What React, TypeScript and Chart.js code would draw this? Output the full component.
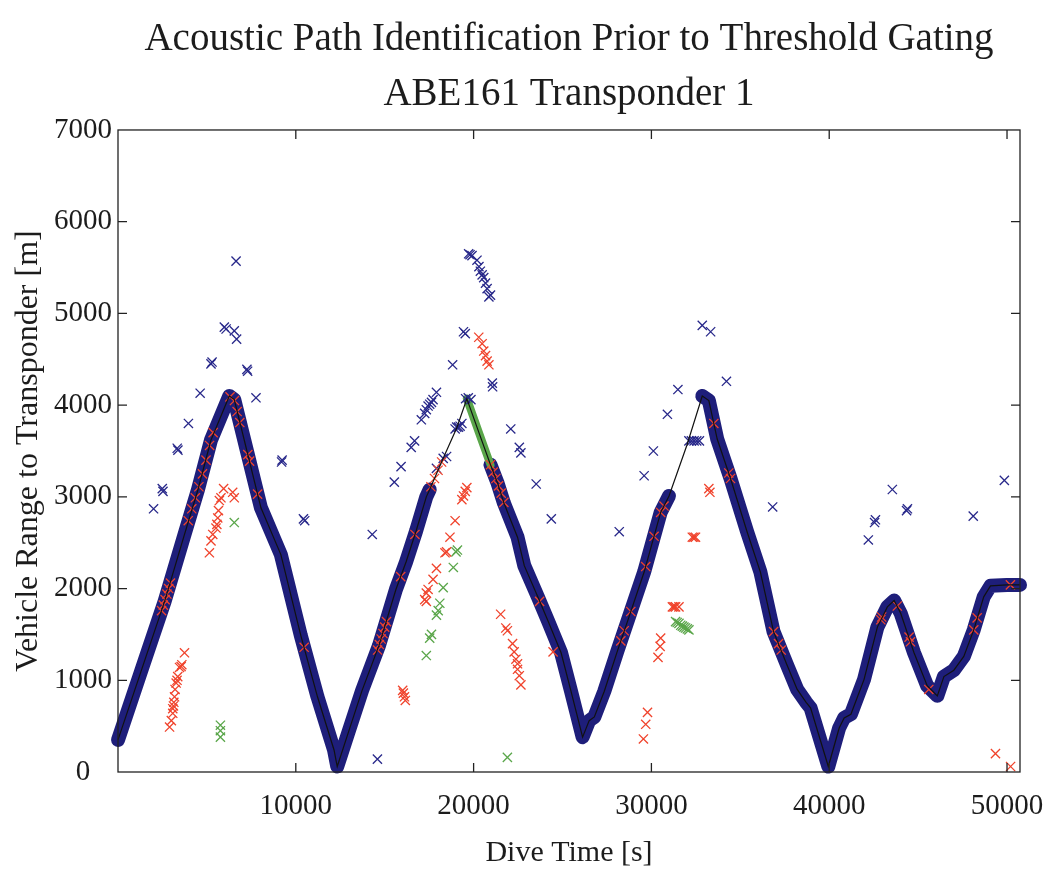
import React, { useEffect, useRef } from 'react';
import { Chart, registerables } from 'chart.js';

Chart.register(...registerables);

const titleLines = ['Acoustic Path Identification Prior to Threshold Gating', 'ABE161 Transponder 1'];
const xAxisTitle = 'Dive Time [s]';
const yAxisTitle = 'Vehicle Range to Transponder [m]';
const xTickValues = [0, 10000, 20000, 30000, 40000, 50000];
const yTickValues = [0, 1000, 2000, 3000, 4000, 5000, 6000, 7000];
const xMin = 0;
const xMax = 50730;
const yMin = 0;
const yMax = 7000;

// true vehicle range (thin black line) [time s, range m]
const trackPoints: number[][] = [
  [0, 350], [1300, 1100], [2620, 1860], [3740, 2590], [4500, 3080], [5230, 3620], [6260, 4100], [6540, 4060],
  [7290, 3470], [8040, 2880], [9160, 2370], [10280, 1490], [11220, 820], [12150, 240], [12330, 60],
  [12970, 440], [13730, 890], [14680, 1380], [15630, 1990], [16200, 2290], [16770, 2630], [17340, 3000],
  [17530, 3080], [18290, 3420], [19050, 3750], [19620, 4070],
  [20300, 3700], [20950, 3350], [21330, 3160], [21710, 2930], [22470, 2560], [22850, 2250], [23610, 1910],
  [24180, 1650], [24920, 1300], [25480, 880], [26130, 380],
  [26500, 560], [26790, 600], [27350, 880], [28090, 1320], [28650, 1640], [29590, 2180], [30520, 2830],
  [30990, 3010], [31990, 3560], [32860, 4100], [33230, 4050], [33700, 3630], [34450, 3200], [35380, 2620],
  [36130, 2180], [36870, 1530], [37620, 1170], [38200, 900], [38700, 760], [38950, 700], [39950, 60],
  [40560, 480], [40840, 590], [41220, 630], [41960, 1010], [42710, 1580], [43270, 1800], [43650, 1870],
  [44020, 1730], [44770, 1300], [45510, 940], [46080, 830], [46450, 1040], [47010, 1110], [47570, 1260],
  [48130, 1550], [48690, 1910], [49070, 2030], [50000, 2040], [50730, 2040],
];

// time spans where the dense direct-path (blue) fixes cover the track
const blueBandSpans: number[][] = [[0, 17530], [20950, 30990], [32860, 50730]];
// time span where the dense green fixes cover the track
const greenBandSpans: number[][] = [[19620, 20950]];

const blueFixes: number[][] = [
  [2000, 2870], [2490, 3090], [2530, 3060], [3330, 3530], [3370, 3510], [3960, 3800], [4620, 4130], [5230, 4450],
  [5290, 4470], [5980, 4850], [6080, 4830], [6540, 4810], [6670, 4720], [6640, 5570], [7250, 4390], [7290, 4370],
  [7760, 4080], [9200, 3380], [9230, 3400], [10430, 2760], [10500, 2740],
  [14300, 2590], [14590, 140], [15540, 3160], [15920, 3330], [16490, 3540], [16680, 3610], [17060, 3840],
  [17250, 3910], [17340, 3950], [17440, 3990], [17530, 4010], [17630, 4030], [17720, 4060], [17910, 4140],
  [18820, 4440], [19430, 4800], [19530, 4780], [19720, 5650], [19800, 5640], [19910, 5630], [20190, 5580],
  [20300, 5510], [20380, 5460], [20480, 5420], [20570, 5390], [20670, 5330], [20760, 5270], [20860, 5180],
  [20950, 5200], [21050, 4240], [21070, 4200], [22090, 3740], [22570, 3540], [22660, 3480], [23520, 3140],
  [24370, 2760],
  [17910, 3310], [18290, 3420], [18480, 3440], [18960, 3740], [19050, 3760], [19150, 3760], [19240, 3770],
  [19340, 3800], [19550, 4070], [19700, 4080], [19850, 4060],
  [28190, 2620], [29590, 3230], [30110, 3500], [30900, 3900], [31490, 4170], [32110, 3610], [32250, 3610],
  [32400, 3610], [32550, 3610], [32700, 3610], [32860, 4870], [33330, 4800], [34220, 4260], [36820, 2890],
  [42200, 2530], [42550, 2720], [42600, 2750], [43550, 3080], [44350, 2850], [44400, 2870], [48100, 2790],
  [49850, 3180],
];

const redFixes: number[][] = [
  [2900, 490], [3000, 560], [3080, 640], [3080, 690], [3120, 720], [3140, 760], [3180, 820], [3210, 900],
  [3270, 970], [3320, 1000], [3360, 1040], [3460, 1140], [3550, 1150], [3590, 1170], [3740, 1300],
  [5140, 2390], [5230, 2520], [5330, 2590], [5510, 2660], [5560, 2700], [5610, 2770], [5650, 2850], [5700, 2960],
  [5790, 2990], [5940, 3090], [6450, 3050], [6540, 2990],
  [2450, 1760], [2550, 1820], [2650, 1880], [2750, 1940], [2850, 2000], [2950, 2060], [3950, 2740], [4150, 2870],
  [4350, 2990], [4550, 3110], [4750, 3250], [4950, 3400], [5150, 3560], [5350, 3700], [6300, 4090], [6550, 4050],
  [6700, 3930], [6850, 3810], [7300, 3460], [7400, 3390], [7850, 3030], [10470, 1360],
  [16010, 890], [16050, 860], [16110, 820], [16160, 780], [17250, 1880], [17340, 1860], [17340, 1950],
  [17440, 1990], [17720, 2100], [17910, 2220], [18390, 2390], [18480, 2400], [18670, 2560], [18960, 2740],
  [19340, 2970], [19430, 3010], [19530, 3060], [19620, 3100],
  [20290, 4740], [20480, 4670], [20570, 4590], [20670, 4540], [20760, 4480], [20860, 4440],
  [21520, 1720], [21810, 1570], [21900, 1540], [22190, 1400], [22280, 1310], [22380, 1230], [22470, 1180],
  [22470, 1120], [22570, 1050], [22660, 950],
  [14600, 1330], [14700, 1390], [14800, 1450], [14900, 1510], [15000, 1580], [15100, 1640], [15900, 2130],
  [16700, 2590], [17600, 3110], [17800, 3200], [18000, 3290], [18200, 3380], [20950, 3350], [21100, 3270],
  [21250, 3200], [21400, 3120], [21550, 3040], [21700, 2940], [23710, 1860], [24470, 1310],
  [29550, 360], [29680, 520], [29780, 650], [30370, 1250], [30490, 1370], [30520, 1460], [31180, 1800],
  [31270, 1800], [31360, 1800], [31550, 1800], [32300, 2560], [32390, 2560], [32480, 2560], [33230, 3090],
  [33290, 3050],
  [28280, 1430], [28470, 1540], [28840, 1750], [29680, 2240], [30150, 2570], [30520, 2830], [30710, 2900],
  [33510, 3800], [34350, 3260], [34450, 3200], [36870, 1530], [37150, 1400], [37300, 1330],
  [42900, 1660], [42950, 1690], [43830, 1810], [44490, 1470], [44570, 1420], [45600, 900], [48130, 1550],
  [48320, 1680], [50190, 2040], [49350, 200], [50200, 60],
];

const greenFixes: number[][] = [
  [5760, 380], [5760, 450], [5760, 510], [6540, 2720],
  [17340, 1270], [17530, 1460], [17630, 1500], [17910, 1710], [18010, 1760], [18100, 1840], [18290, 2010],
  [18860, 2230], [19010, 2400], [19090, 2420], [21900, 160],
  [31360, 1640], [31450, 1630], [31550, 1620], [31650, 1600], [31740, 1590], [31830, 1580], [31920, 1570],
  [32020, 1560], [32110, 1550],
];

const SERIF = "'Liberation Serif', 'Times New Roman', serif";
const TEXT_COLOR = '#1c1c1c';

function toXY(pairs: number[][]) {
  return pairs.map(([x, y]) => ({ x, y }));
}

function trackWithin(spans: number[][]) {
  const out: { x: number; y: number | null }[] = [];
  for (const [x, y] of trackPoints) {
    const inside = spans.some(([a, b]) => x >= a && x <= b);
    if (inside) out.push({ x, y });
    else if (out.length && out[out.length - 1].y !== null) out.push({ x, y: null });
  }
  return out;
}

const framePlugin = {
  id: 'matlabFrame',
  afterDatasetsDraw(chart: any) {
    const { ctx, chartArea, scales } = chart;
    const { left, right, top, bottom } = chartArea;
    const len = 9;
    ctx.save();
    ctx.strokeStyle = '#222';
    ctx.lineWidth = 1.3;
    ctx.strokeRect(left, top, right - left, bottom - top);
    ctx.beginPath();
    for (const t of scales.x.ticks) {
      const px = scales.x.getPixelForValue(t.value);
      if (px <= left + 2 || px >= right - 2) continue;
      ctx.moveTo(px, bottom);
      ctx.lineTo(px, bottom - len);
      ctx.moveTo(px, top);
      ctx.lineTo(px, top + len);
    }
    for (const t of scales.y.ticks) {
      const py = scales.y.getPixelForValue(t.value);
      if (py <= top + 2 || py >= bottom - 2) continue;
      ctx.moveTo(left, py);
      ctx.lineTo(left + len, py);
      ctx.moveTo(right, py);
      ctx.lineTo(right - len, py);
    }
    ctx.stroke();
    ctx.restore();
  },
};

export default function App() {
  const canvasRef = useRef<HTMLCanvasElement | null>(null);

  useEffect(() => {
    if (!canvasRef.current) return;
    const crossStyle = (color: string, order: number, data: any[], label: string) => ({
      type: 'scatter' as const,
      label,
      data,
      showLine: false,
      pointStyle: 'crossRot',
      pointRadius: 6.5,
      pointBorderWidth: 1.3,
      borderColor: color,
      backgroundColor: color,
      pointBorderColor: color,
      order,
      clip: false as const,
    });

    const chart = new Chart(canvasRef.current, {
      type: 'scatter',
      data: {
        datasets: [
          {
            type: 'line',
            label: 'True range',
            data: toXY(trackPoints),
            showLine: true,
            borderColor: '#111111',
            borderWidth: 1.2,
            pointRadius: 0,
            fill: false,
            tension: 0,
            order: 0,
            clip: false,
          } as any,
          crossStyle('#f0432c', 1, toXY(redFixes), 'Red fixes'),
          crossStyle('#5aa64a', 2, toXY(greenFixes), 'Green fixes'),
          crossStyle('#28288a', 3, toXY(blueFixes), 'Blue fixes'),
          {
            type: 'line',
            label: 'Green band',
            data: trackWithin(greenBandSpans),
            showLine: true,
            spanGaps: false,
            borderColor: '#5aa64a',
            borderWidth: 8,
            borderJoinStyle: 'round',
            borderCapStyle: 'round',
            pointRadius: 0,
            fill: false,
            order: 4,
            clip: false,
          } as any,
          {
            type: 'line',
            label: 'Blue band',
            data: trackWithin(blueBandSpans),
            showLine: true,
            spanGaps: false,
            borderColor: '#1e1e7a',
            borderWidth: 14,
            borderJoinStyle: 'round',
            borderCapStyle: 'round',
            pointRadius: 0,
            fill: false,
            order: 5,
            clip: false,
          } as any,
        ],
      },
      options: {
        animation: false,
        responsive: true,
        maintainAspectRatio: false,
        layout: { padding: { left: 0, right: 27, top: 0, bottom: 0 } },
        plugins: {
          legend: { display: false },
          tooltip: { enabled: false },
          title: {
            display: true,
            text: titleLines,
            fullSize: false,
            color: TEXT_COLOR,
            font: { family: SERIF, size: 39, weight: 'normal', lineHeight: 1.41 },
            padding: { top: 12, bottom: 8 },
          },
        },
        scales: {
          x: {
            type: 'linear',
            min: xMin,
            max: xMax,
            afterBuildTicks: (scale: any) => {
              scale.ticks = xTickValues.map((v) => ({ value: v }));
            },
            afterFit: (scale: any) => {
              scale.height = 98;
              scale.paddingLeft = 0;
              scale.paddingRight = 0;
            },
            ticks: {
              color: TEXT_COLOR,
              font: { family: SERIF, size: 29 },
              padding: 17,
              maxRotation: 0,
              autoSkip: false,
              callback: (v: any) => (v === 0 ? '' : String(v)),
            },
            grid: { display: false, drawTicks: false },
            border: { display: false },
            title: {
              display: true,
              text: xAxisTitle,
              color: TEXT_COLOR,
              font: { family: SERIF, size: 30, lineHeight: 1 },
              padding: { top: 0, bottom: 2 },
            },
          },
          y: {
            type: 'linear',
            min: yMin,
            max: yMax,
            afterBuildTicks: (scale: any) => {
              scale.ticks = yTickValues.map((v) => ({ value: v }));
            },
            afterFit: (scale: any) => {
              scale.width = 118;
            },
            ticks: {
              color: TEXT_COLOR,
              font: { family: SERIF, size: 29 },
              padding: 6,
              crossAlign: 'center',
              autoSkip: false,
              callback: (v: any) => String(v),
            },
            grid: { display: false, drawTicks: false },
            border: { display: false },
            title: {
              display: true,
              text: yAxisTitle,
              color: TEXT_COLOR,
              font: { family: SERIF, size: 32, lineHeight: 1 },
              padding: { top: 13, bottom: 0 },
            },
          },
        },
      },
      plugins: [framePlugin],
    } as any);

    return () => chart.destroy();
  }, []);

  return (
    <div style={{ position: 'absolute', left: 0, top: 0, width: 1047, height: 870, background: '#ffffff' }}>
      <canvas ref={canvasRef} />
    </div>
  );
}
